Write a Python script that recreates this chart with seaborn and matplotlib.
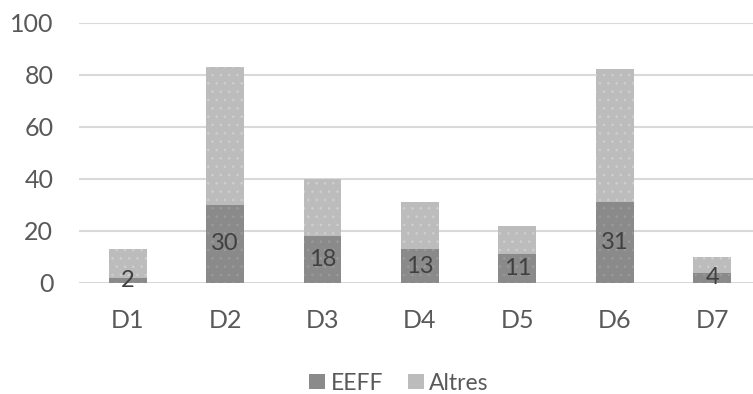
import matplotlib
matplotlib.use("Agg")
import matplotlib.pyplot as plt
import seaborn as sns
import pandas as pd
from matplotlib.patches import Patch

categories = ["D1", "D2", "D3", "D4", "D5", "D6", "D7"]
eeff = [2, 30, 18, 13, 11, 31, 4]
altres = [11, 53, 22, 18, 11, 51, 6]
yticks = [0, 20, 40, 60, 80, 100]

df = pd.DataFrame({"cat": categories, "EEFF": eeff, "Altres": altres})
df["Total"] = df["EEFF"] + df["Altres"]

sns.set_theme(style="white")
plt.rcParams["font.family"] = ["Lato", "DejaVu Sans"]
plt.rcParams["hatch.linewidth"] = 0.6

dark = "#8a8a8a"
light = "#bcbcbc"
tick_col = "#595959"

fig = plt.figure(figsize=(7.53, 3.94), dpi=100)
ax = fig.add_axes([79 / 753, 111 / 394, 674 / 753, 260.5 / 394])

sns.barplot(data=df, x="cat", y="Total", color=light, saturation=1,
            width=0.39, ax=ax, zorder=3)
sns.barplot(data=df, x="cat", y="EEFF", color=dark, saturation=1,
            width=0.39, ax=ax, zorder=4)

for i, p in enumerate(ax.patches):
    p.set_linewidth(0)
    p.set_hatch("..")
    p.set_edgecolor("#cfcfcf" if i < len(categories) else "#9a9a9a")

# value labels centred in the EEFF segment
for i, v in enumerate(eeff):
    ax.text(i, v / 2, str(v), ha="center", va="center", fontsize=17,
            color="#404040", zorder=6)

ax.set_ylim(0, 100)
ax.set_xlim(-0.5, 6.42)
ax.set_yticks(yticks)
ax.yaxis.grid(True, color="#d9d9d9", linewidth=1.5, zorder=0)
ax.set_axisbelow(True)
for s in ax.spines.values():
    s.set_visible(False)
ax.set_xlabel("")
ax.set_ylabel("")
ax.tick_params(axis="y", length=0, pad=18.5, labelsize=18, labelcolor=tick_col)
ax.tick_params(axis="x", length=0, pad=19, labelsize=18, labelcolor=tick_col)

handles = [Patch(facecolor=dark, edgecolor="none", label="EEFF"),
           Patch(facecolor=light, edgecolor="none", label="Altres")]
fig.legend(handles=handles, loc="center", bbox_to_anchor=(399 / 753, 1 - 383 / 394),
           ncol=2, frameon=False, fontsize=16.5, labelcolor=tick_col,
           handlelength=0.68, handleheight=0.68, handletextpad=0.25,
           columnspacing=1.1, borderpad=0, borderaxespad=0)

fig.savefig("out.png", dpi=100)
